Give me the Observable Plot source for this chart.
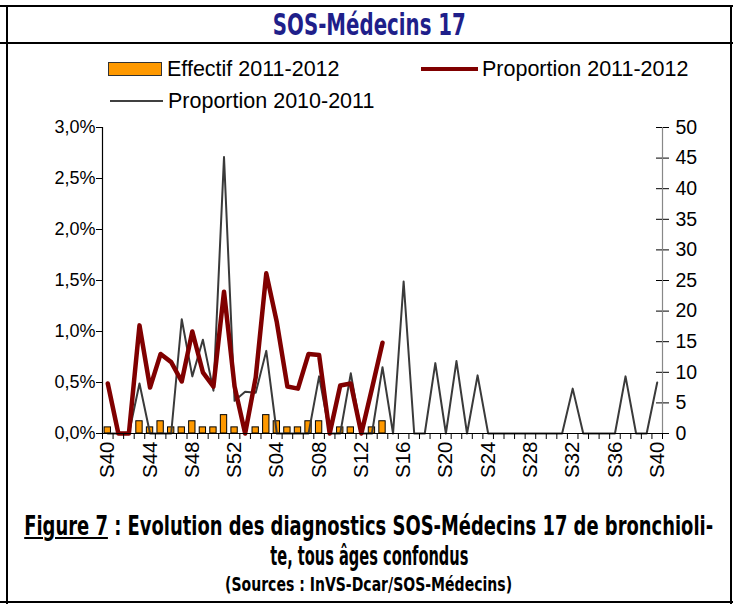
<!DOCTYPE html>
<html><head><meta charset="utf-8">
<script src="https://cdn.jsdelivr.net/npm/d3@7"></script>
<script src="https://cdn.jsdelivr.net/npm/@observablehq/plot@0.6"></script>
<style>
body{margin:0;background:#fff;}
#fig{position:relative;width:739px;height:604px;overflow:hidden;background:#fff;font-family:"Liberation Sans",Arial,sans-serif;color:#000;}
.ln{position:absolute;background:#000;}
.narrow{font-family:"DejaVu Sans",Verdana,sans-serif;font-weight:bold;white-space:nowrap;}
.narrow > span{display:inline-block;flex:none;transform-origin:50% 50%;}
.lg{position:absolute;font-size:21.5px;line-height:24px;white-space:nowrap;}
.cap{position:absolute;left:7px;width:724px;display:flex;justify-content:center;}
</style></head><body>
<div id="fig">
  <div class="ln" style="left:0;top:5px;width:733px;height:2px"></div>
  <div class="ln" style="left:0;top:42px;width:733px;height:2px"></div>
  <div class="ln" style="left:0;top:601px;width:733px;height:2px"></div>
  <div class="ln" style="left:6px;top:5px;width:2px;height:599px"></div>
  <div class="ln" style="left:730px;top:5px;width:2px;height:599px"></div>
  <div class="narrow cap" data-w="193" style="top:6px;height:37px;line-height:37px;font-size:30px;color:#1f1f8a;"><span>SOS-Médecins 17</span></div>

  <div style="position:absolute;left:108px;top:62px;width:52px;height:12px;background:#FF9900;border:1px solid #333"></div>
  <div class="lg" style="left:167px;top:57px">Effectif 2011-2012</div>
  <div style="position:absolute;left:421px;top:67px;width:57px;height:4px;background:#800000"></div>
  <div class="lg" style="left:482px;top:57px">Proportion 2011-2012</div>
  <div style="position:absolute;left:110px;top:100px;width:53px;height:2px;background:#404040"></div>
  <div class="lg" style="left:168px;top:89px">Proportion 2010-2011</div>

  <div id="chart" style="position:absolute;left:0;top:110px;"></div>

  <div class="narrow cap" data-w="689" style="top:511px;font-size:26px;line-height:31px;"><span><span style="text-decoration:underline">Figure 7</span> : Evolution des diagnostics SOS-Médecins 17 de bronchioli-</span></div>
  <div class="narrow cap" data-w="198" style="top:541px;font-size:26px;line-height:31px;"><span>te, tous âges confondus</span></div>
  <div class="narrow cap" data-w="287" style="top:571px;font-size:20px;line-height:26px;"><span>(Sources : InVS-Dcar/SOS-Médecins)</span></div>
</div>
<script>
// Week labels (S40 2011 .. S40 2012)
const weeks = ["S40","S41","S42","S43","S44","S45","S46","S47","S48","S49","S50","S51","S52",
  "S01","S02","S03","S04","S05","S06","S07","S08","S09","S10","S11","S12","S13","S14","S15","S16",
  "S17","S18","S19","S20","S21","S22","S23","S24","S25","S26","S27","S28","S29","S30","S31","S32",
  "S33","S34","S35","S36","S37","S38","S39","S40"];
// Effectif 2011-2012 (right axis, counts)
const effectif1112 = [1,0,0,2,1,2,1,1,2,1,1,3,1,0,1,3,2,1,1,2,2,0,1,1,0,1,2];
// Proportion 2011-2012 (left axis, %)
const prop1112 = [0.49,0,0,1.06,0.45,0.78,0.70,0.51,1.00,0.60,0.46,1.39,0.46,0,0.55,1.57,1.09,0.46,0.44,0.78,0.77,0,0.47,0.49,0,0.44,0.89];
// Proportion 2010-2011 (left axis, %)
const prop1011 = [0,0,0,0.49,0,0,0,1.12,0.56,0.92,0.42,2.71,0.32,0.41,0.40,0.81,0,0,0,0,0.56,0,0,0.59,0,0,0.65,0,1.49,0,0,0.69,0,0.71,0,0.57,0,0,0,0,0,0,0,0,0.44,0,0,0,0,0.56,0,0,0.50];
const leftTicks = [0,0.5,1,1.5,2,2.5,3];
const rightTicks = [0,5,10,15,20,25,30,35,40,45,50];
const labelStep = 4;

const pctMax = leftTicks[leftTicks.length-1], cntMax = rightTicks[rightTicks.length-1];
const k = pctMax / cntMax;
const n = weeks.length;
const bars = effectif1112.map((v,i)=>({i, v}));
const red = prop1112.map((v,i)=>({i, v}));
const gray = prop1011.map((v,i)=>({i, v}));
const bounds = d3.range(n+1).map(i=>i-0.5);
const labelIdx = d3.range(0, n, labelStep);

const marks = [
  Plot.rectY(bars, {x1: d=>d.i-0.3, x2: d=>d.i+0.3, y1: 0, y2: d=>d.v*k, fill:"#FF9900", stroke:"#000", strokeWidth:1}),
  Plot.line(gray, {x:"i", y:"v", stroke:"#3a3a3a", strokeWidth:2}),
  Plot.line(red, {x:"i", y:"v", stroke:"#800000", strokeWidth:4.5}),
  Plot.ruleX([-0.5], {stroke:"#000", strokeWidth:1.2}),
  Plot.ruleX([n-0.5], {stroke:"#888", strokeWidth:1.2}),
  Plot.ruleY([0], {stroke:"#000", strokeWidth:1.2}),
  Plot.axisY({anchor:"left", label:null, ticks: leftTicks, tickSize:6, tickPadding:1, fontSize:18, stroke:"#000", tickFormat: d=>d.toFixed(1).replace(".",",")+"%"}),
  Plot.axisY({anchor:"right", label:null, ticks: rightTicks.map(c=>c*k), tickSize:6, tickPadding:7, fontSize:19.5, stroke:"#000", tickFormat: d=>String(Math.round(d/k))}),
  Plot.ruleY(rightTicks.map(c=>c*k), {x1: n-0.5, x2: n-0.5, insetLeft:-6, stroke:"#000"}),
  Plot.axisX({label:null, ticks: bounds, tickSize:6, stroke:"#000", tickFormat: ()=>""}),
  Plot.axisX({label:null, ticks: labelIdx, tickSize:0, tickPadding:8, tickRotate:-90, fontSize:20.5, tickFormat: i=>weeks[i]})
];

const chart = Plot.plot({
  width: 739, height: 390,
  marginLeft: 102, marginRight: 77, marginTop: 17, marginBottom: 67,
  x: {type:"linear", domain:[-0.5, n-0.5], axis:null},
  y: {type:"linear", domain:[0, pctMax], axis:null},
  style: {fontFamily:"'Liberation Sans', Arial, sans-serif", fontSize:"19px", color:"#000", background:"transparent", overflow:"visible"},
  marks
});
document.getElementById("chart").appendChild(chart);

// condensed title/caption text: fit each line to its measured width in the reference
document.querySelectorAll("[data-w]").forEach(el => {
  const inner = el.firstElementChild;
  const w = inner.getBoundingClientRect().width;
  inner.style.transform = `scaleX(${(+el.dataset.w / w).toFixed(4)})`;
});
</script>
</body></html>
